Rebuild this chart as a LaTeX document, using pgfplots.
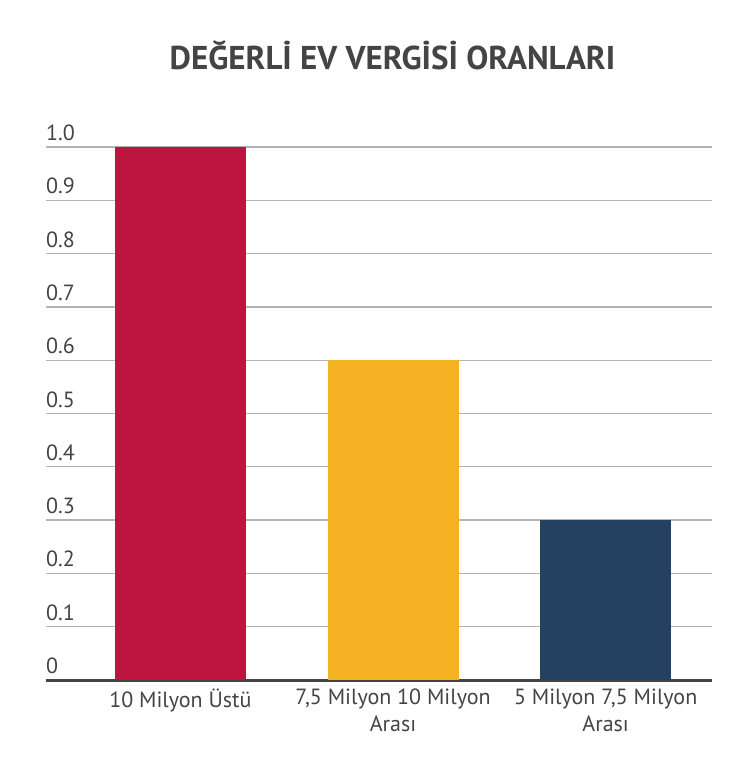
\documentclass[border=0pt]{standalone}
\usepackage{fontspec}
\setmainfont{PT Sans}
\usepackage{pgfplots}
\pgfplotsset{compat=1.18}
\definecolor{cred}{HTML}{BE1540}
\definecolor{cyel}{HTML}{F4B223}
\definecolor{cnavy}{HTML}{244162}
\definecolor{ctext}{HTML}{444444}
\definecolor{cgrid}{HTML}{B4B4B4}
\begin{document}
\begin{tikzpicture}[x=1pt,y=1pt]
\path[use as bounding box] (0,0) rectangle (752,774);
\begin{axis}[
  at={(46pt,94pt)}, anchor=south west,
  scale only axis, width=666pt, height=533pt,
  xmin=-0.632, xmax=2.5, ymin=0, ymax=1.0,
  clip=false,
  axis lines*=left,
  axis line style={-},
  y axis line style={draw=none},
  x axis line style={draw=ctext, line width=3pt},
  ytick={0,0.1,0.2,0.3,0.4,0.5,0.6,0.7,0.8,0.9,1.0},
  yticklabels={0,0.1,0.2,0.3,0.4,0.5,0.6,0.7,0.8,0.9,1.0},
  ymajorgrids,
  grid style={draw=cgrid, line width=1.3pt},
  major tick length=0pt,
  yticklabel style={anchor=south west, inner sep=0pt, yshift=6pt, font=\fontsize{22}{26}\selectfont, text=ctext},
  xtick={0,1,2},
  xticklabels={10 Milyon Üstü, {7,5 Milyon 10 Milyon\\Arası}, {5 Milyon 7,5 Milyon\\Arası}},
  xticklabel style={align=center, yshift=-5pt, font=\fontsize{22}{27}\selectfont, text=ctext},
  ybar, bar width=0.616, bar shift=0pt,
  every axis plot/.append style={draw=none},
]
\addplot[fill=cred] coordinates {(0,1.0)};
\addplot[fill=cyel] coordinates {(1,0.6)};
\addplot[fill=cnavy] coordinates {(2,0.3)};
\end{axis}
\node[text=ctext, font=\fontsize{33}{38}\bfseries\selectfont] at (392.5,719) {DEĞERLİ EV VERGİSİ ORANLARI};
\end{tikzpicture}
\end{document}
